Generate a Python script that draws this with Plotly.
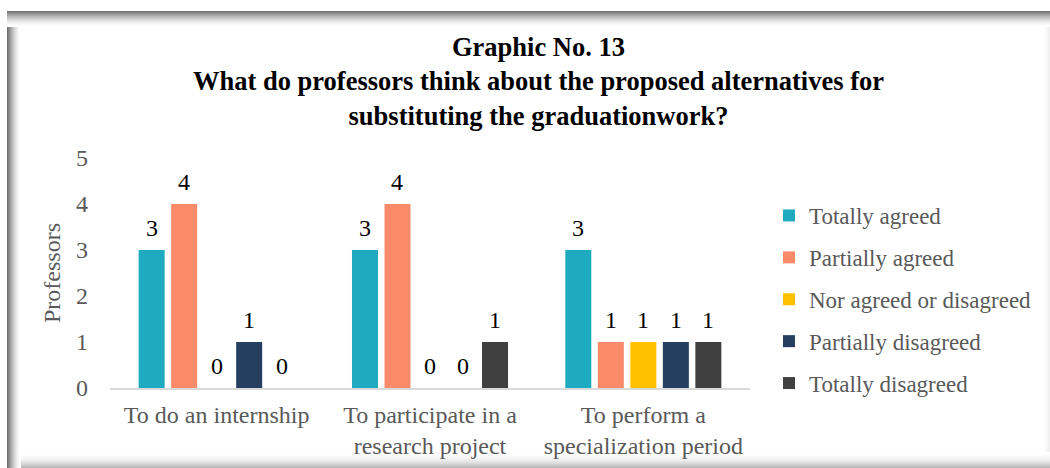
import plotly.graph_objects as go

# Survey answers of the professors
categories = ["To do an internship", "To participate in a<br>research project", "To perform a<br>specialization period"]
series_names = ["Totally agreed", "Partially agreed", "Nor agreed or disagreed", "Partially disagreed", "Totally disagreed"]
totally_agreed = [3, 3, 3]
partially_agreed = [4, 4, 1]
neutral = [0, 0, 1]
partially_disagreed = [1, 0, 1]
totally_disagreed = [0, 1, 1]
y_ticks = [0, 1, 2, 3, 4, 5]

series_values = [totally_agreed, partially_agreed, neutral, partially_disagreed, totally_disagreed]
colors = ["#1EABC0", "#F98B6B", "#FFC000", "#243F60", "#404040"]

W, H = 1050, 468
L, R, T, B = 110, 300, 158, 80
PW, PH = W - L - R, H - T - B
FONT = "Liberation Serif, Times New Roman, serif"
TXT = 24

BARGAP = 0.238
slot = PW / len(categories) * (1 - BARGAP) / len(series_names)

fig = go.Figure()
annotations = []
for i, (name, vals, col) in enumerate(zip(series_names, series_values, colors)):
    fig.add_trace(go.Bar(
        name=name, x=categories, y=vals, marker=dict(color=col, line=dict(width=0)),
        legendgroup=name,
    ))
    for c, v in zip(categories, vals):
        annotations.append(dict(
            x=c, y=v, xref="x", yref="y", text=str(v), showarrow=False,
            xanchor="center", yanchor="bottom", xshift=(i - 2) * slot, yshift=7,
            font=dict(family=FONT, size=TXT, color="#000000"),
        ))


def px_x(p):
    return (p - L) / PW


def px_y(p):
    return (H - B - p) / PH


def gray(v):
    v = max(0, min(255, int(round(v))))
    return f"rgb({v},{v},{v})"


# Chart title
annotations.append(dict(
    text="<b>Graphic No. 13<br>What do professors think about the proposed alternatives for<br>substituting the graduationwork?</b>",
    x=px_x(538), y=px_y(30), xref="paper", yref="paper", showarrow=False,
    xanchor="center", yanchor="top", align="center",
    font=dict(family=FONT, size=26.5, color="#000000"),
))

# Shadowed frame around the chart
shapes = []
# right edge
for k, x in enumerate(range(1043, 1050)):
    t = k / 6
    shapes.append(dict(type="rect", xref="paper", yref="paper", layer="below",
                       x0=px_x(x), x1=px_x(x + 1), y0=px_y(H), y1=px_y(11),
                       fillcolor=gray(255 - 15 * t), line=dict(width=0)))
# bottom edge
for k, y in enumerate(range(452, 468)):
    t = k / 15
    shapes.append(dict(type="rect", xref="paper", yref="paper", layer="below",
                       x0=px_x(7), x1=px_x(W), y0=px_y(y + 1), y1=px_y(y),
                       fillcolor=gray(255 - 70 * t ** 2), line=dict(width=0)))
# left edge
for k, x in enumerate(range(20, 6, -1)):
    t = k / 13
    shapes.append(dict(type="rect", xref="paper", yref="paper", layer="below",
                       x0=px_x(x), x1=px_x(x + 1), y0=px_y(H), y1=px_y(11),
                       fillcolor=gray(255 - 145 * t ** 1.6), line=dict(width=0)))
# top edge
for k, y in enumerate(range(26, 10, -1)):
    t = k / 15
    shapes.append(dict(type="rect", xref="paper", yref="paper", layer="below",
                       x0=px_x(7), x1=px_x(W), y0=px_y(y + 1), y1=px_y(y),
                       fillcolor=gray(255 - 140 * t ** 1.6), line=dict(width=0)))

fig.update_layout(
    width=W, height=H,
    margin=dict(l=L, r=R, t=T, b=B, pad=0, autoexpand=False),
    paper_bgcolor="white", plot_bgcolor="rgba(0,0,0,0)",
    barmode="group", bargap=BARGAP, bargroupgap=0.2,
    font=dict(family=FONT, size=TXT, color="#595959"),
    xaxis=dict(
        showgrid=False, zeroline=False, showline=True, linecolor="#D9D9D9", linewidth=1.5,
        ticks="", ticklabelstandoff=4, automargin=False,
        tickfont=dict(family=FONT, size=TXT, color="#595959"),
    ),
    yaxis=dict(
        range=[0, 5], tickvals=y_ticks, showgrid=False, zeroline=False, showline=False,
        ticks="", ticklabelstandoff=21, automargin=False,
        tickfont=dict(family=FONT, size=TXT, color="#595959"),
        title=dict(text="Professors", font=dict(family=FONT, size=TXT, color="#595959"), standoff=8),
    ),
    legend=dict(
        x=px_x(769), y=px_y(194), xanchor="left", yanchor="top",
        font=dict(family=FONT, size=23, color="#595959"),
        tracegroupgap=9, bgcolor="rgba(0,0,0,0)",
    ),
    showlegend=True,
    annotations=annotations,
    shapes=shapes,
)

fig.write_html("out.html")
